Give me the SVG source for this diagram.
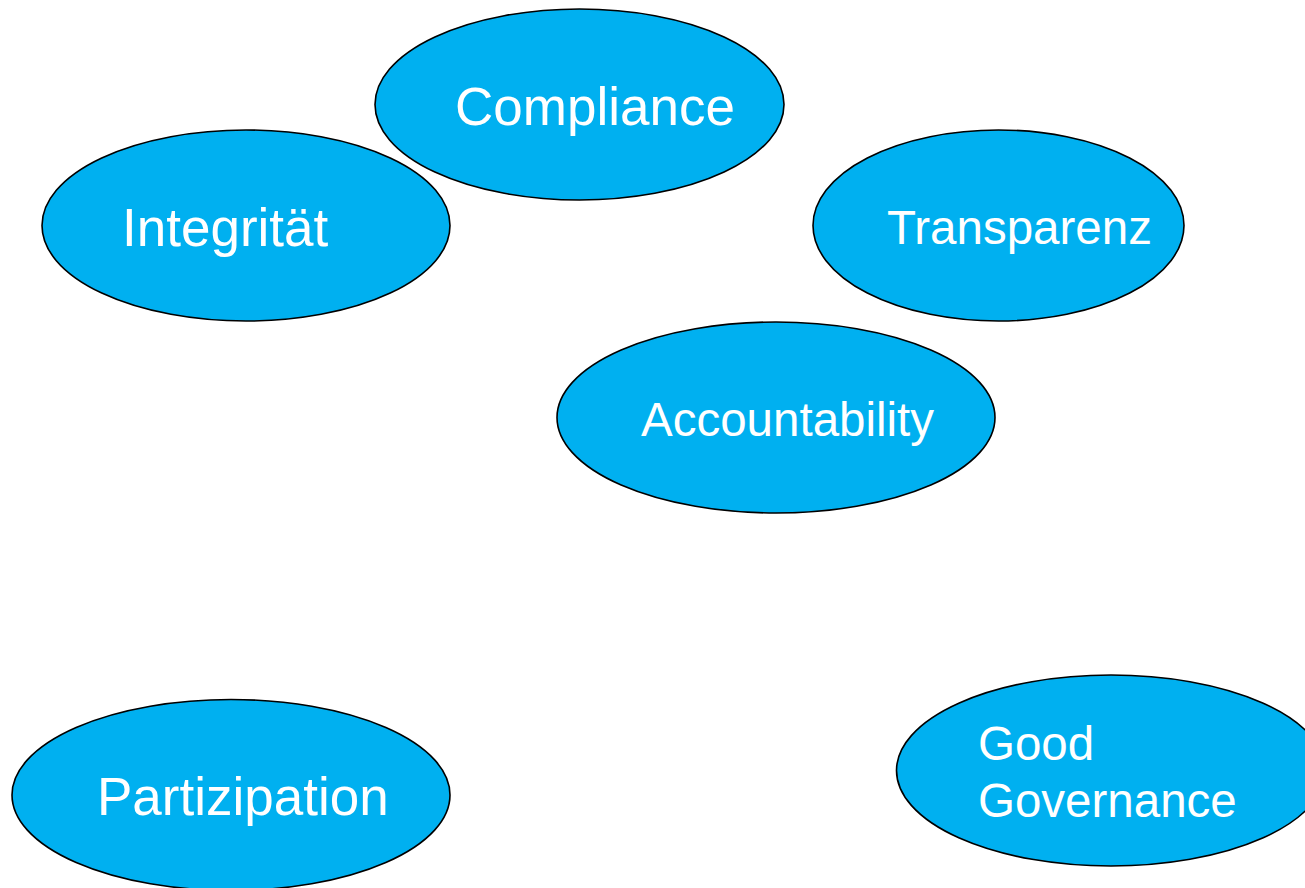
<svg xmlns="http://www.w3.org/2000/svg" width="1305" height="888" viewBox="0 0 1305 888">
<style>
.n{fill:#00B0F0;stroke:#000;stroke-width:1.6}
.t{fill:#fff;font-family:"Liberation Sans",Arial,sans-serif}
.b{font-size:53px}
.s{font-size:47.5px}
</style>
<rect width="1305" height="888" fill="#fff"/>
<g id="compliance"><ellipse class="n" cx="579.5" cy="104.5" rx="204.5" ry="95.5"/><text class="t b" x="455" y="125">Compliance</text></g>
<g id="integritaet"><ellipse class="n" cx="246" cy="225.5" rx="204" ry="95.5"/><text class="t b" x="122" y="246">Integrität</text></g>
<g id="transparenz"><ellipse class="n" cx="998.5" cy="225.5" rx="185.5" ry="95.5"/><text class="t s" x="887" y="244">Transparenz</text></g>
<g id="accountability"><ellipse class="n" cx="776" cy="417.5" rx="219" ry="95.5"/><text class="t s" x="641" y="436">Accountability</text></g>
<g id="partizipation"><ellipse class="n" cx="231" cy="795" rx="219" ry="95.5"/><text class="t b" x="97" y="815">Partizipation</text></g>
<g id="goodgovernance"><ellipse class="n" cx="1111" cy="770.5" rx="214.5" ry="95.5"/><text class="t s" x="978" y="760">Good</text><text class="t s" x="978" y="817">Governance</text></g>
<g id="connectors"></g>
</svg>
